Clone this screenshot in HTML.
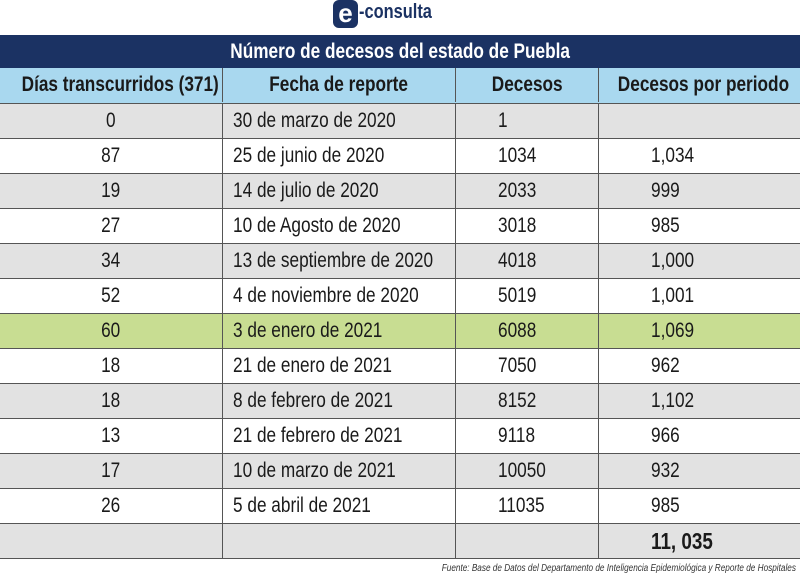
<!DOCTYPE html>
<html><head><meta charset="utf-8"><style>
body{margin:0;width:800px;height:580px;background:#fff;font-family:"Liberation Sans",sans-serif;position:relative;overflow:hidden}
.s{display:inline-block;transform:scaleX(.82);transform-origin:left center;white-space:nowrap}
.c{transform-origin:center center}
.row{position:absolute;left:0;width:800px;height:35px;border-top:1px solid #555;box-sizing:border-box}
.cell{position:absolute;top:0;height:34px;line-height:34px;font-size:21px;color:#1a1a1a;border-left:1px solid #555;box-sizing:border-box}
</style></head><body>
<div style="position:absolute;left:333px;top:0px;width:25px;height:28px;background:#1b3263;border-radius:6px;color:#fff;font-size:26px;line-height:26px;text-align:center;font-weight:bold">e</div>
<div style="position:absolute;left:359px;top:1px;font-size:20px;font-weight:bold;color:#1b3263"><span class="s">-consulta</span></div>
<div style="position:absolute;left:0;top:35px;width:800px;height:33px;background:#1b3263;color:#fff;font-size:21px;font-weight:bold;line-height:33px;text-align:center"><span class="s c">Número de decesos del estado de Puebla</span></div>
<div id="t"></div>
<div style="position:absolute;right:4px;top:563px;font-size:10px;font-style:italic;color:#333"><span class="s" style="transform-origin:right center">Fuente: Base de Datos del Departamento de Inteligencia Epidemiológica y Reporte de Hospitales</span></div>
<script>
var rows=[["Días transcurridos (371)","Fecha de reporte","Decesos","Decesos por periodo"],
["0","30 de marzo de 2020","1",""],["87","25 de junio de 2020","1034","1,034"],["19","14 de julio de 2020","2033","999"],["27","10 de Agosto de 2020","3018","985"],["34","13 de septiembre de 2020","4018","1,000"],["52","4 de noviembre de 2020","5019","1,001"],["60","3 de enero de 2021","6088","1,069"],["18","21 de enero de 2021","7050","962"],["18","8 de febrero de 2021","8152","1,102"],["13","21 de febrero de 2021","9118","966"],["17","10 de marzo de 2021","10050","932"],["26","5 de abril de 2021","11035","985"],["","","","11, 035"]];
var xs=[0,222,455,598,800],h="";
rows.forEach(function(r,i){
 var y=i==0?68:103+(i-1)*35, bg=i==0?"#a9d8ef":(i==7?"#c8dd92":((i%2)?"#e2e2e2":"#fff"));
 h+='<div class="row" style="top:'+y+'px;background:'+bg+(i==0?';border-top:none':'')+'">';
 for(var j=0;j<4;j++){
  var st='left:'+xs[j]+'px;width:'+(xs[j+1]-xs[j])+'px;'+(j==0?'border-left:none;':'');
  var bold=(i==0||i==13)?'font-weight:bold;':'';
  if(i==13)st+='font-size:23px;';
  if(i==0||j==0) h+='<div class="cell" style="'+st+bold+'text-align:center"><span class="s c">'+r[j]+'</span></div>';
  else{var pad=j==1?10:(j==2?42:52);h+='<div class="cell" style="'+st+bold+'padding-left:'+pad+'px"><span class="s">'+r[j]+'</span></div>';}
 }
 h+='</div>';
});
h+='<div style="position:absolute;left:0;top:558px;width:800px;border-top:1px solid #555"></div>';
document.getElementById("t").innerHTML=h;
</script>
</body></html>
